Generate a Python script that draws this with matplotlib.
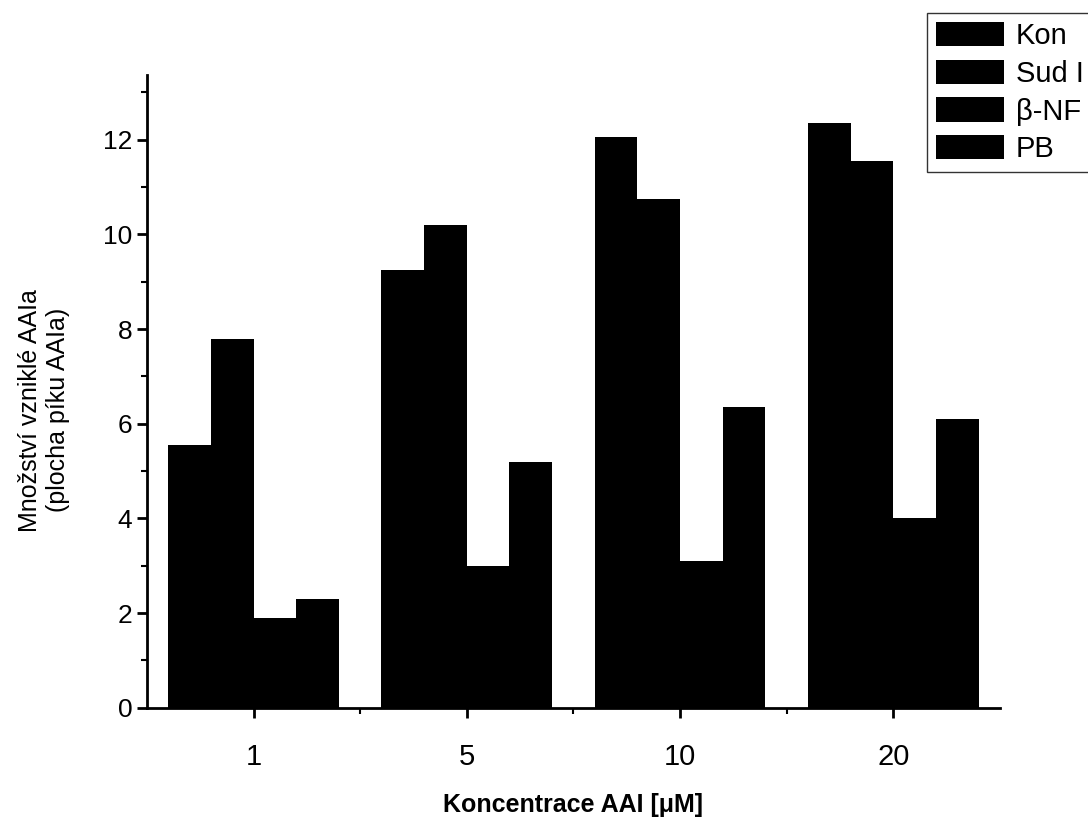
import numpy as np
import matplotlib
matplotlib.use("Agg")
import matplotlib.pyplot as plt
from matplotlib.ticker import MultipleLocator, FixedLocator

plt.rcParams['font.family'] = ['Liberation Sans', 'DejaVu Sans']

# data
concentrations = ['1', '5', '10', '20']
series_names = ['Kon', 'Sud I', 'β-NF', 'PB']
kon = [5.55, 9.25, 12.05, 12.35]
sud_i = [7.8, 10.2, 10.75, 11.55]
beta_nf = [1.9, 3.0, 3.1, 4.0]
pb = [2.3, 5.2, 6.35, 6.1]
series = [kon, sud_i, beta_nf, pb]

fig = plt.figure(figsize=(10.88, 8.23), dpi=100)
ax = fig.add_axes([0.135, 0.140, 0.784, 0.769])

x = np.arange(1, len(concentrations) + 1)
width = 0.2
for i, (name, vals) in enumerate(zip(series_names, series)):
    ax.bar(x + (i - 1.5) * width, vals, width, color='black',
           linewidth=0, label=name)

ax.set_xlim(0.5, 4.5)
ax.set_ylim(0, 13.37)
ax.set_xticks(x)
ax.set_xticklabels(concentrations, fontsize=21)
ax.xaxis.set_minor_locator(FixedLocator([1.5, 2.5, 3.5]))
ax.yaxis.set_major_locator(MultipleLocator(2))
ax.yaxis.set_minor_locator(MultipleLocator(1))
ax.tick_params(axis='y', labelsize=19)
ax.tick_params(which='major', direction='out', length=7, width=2)
ax.tick_params(which='minor', direction='out', length=4, width=1.5)
ax.tick_params(axis='x', pad=18)

for s in ['top', 'right']:
    ax.spines[s].set_visible(False)
for s in ['left', 'bottom']:
    ax.spines[s].set_linewidth(2)

ax.set_xlabel('Koncentrace AAI [μM]', fontsize=18, fontweight='bold', labelpad=16)
ax.set_ylabel('Množství vzniklé AAIa\n(plocha píku AAIa)', fontsize=18,
              linespacing=1.2)
ax.yaxis.set_label_coords(-0.090, 0.47)

fig.legend(loc='upper left', bbox_to_anchor=(927 / 1088, 1 - 13 / 823),
           fontsize=21, frameon=True, fancybox=False, edgecolor='black',
           handlelength=2.35, handleheight=0.9, handletextpad=0.4,
           labelspacing=0.33, borderpad=0.3, borderaxespad=0)

plt.savefig('out.png', dpi=100)
